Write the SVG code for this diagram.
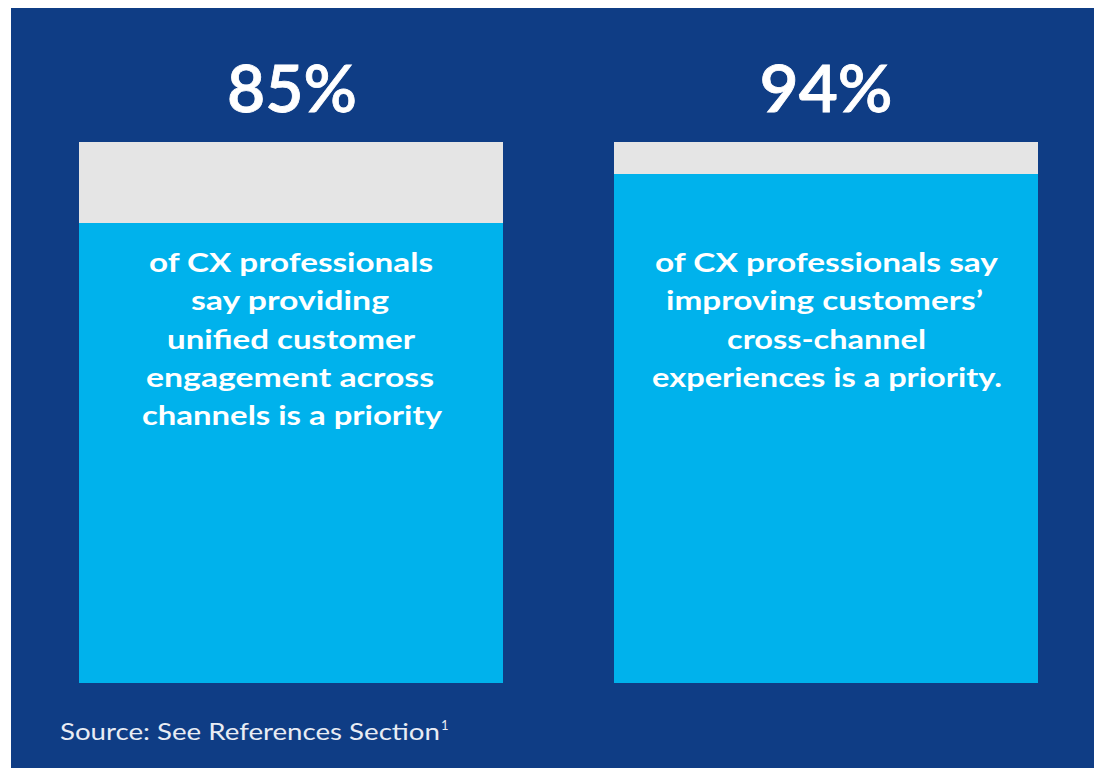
<svg xmlns="http://www.w3.org/2000/svg" width="1094" height="768" viewBox="0 0 1094 768">
<style>
.bg{fill:#0F3D85}
.gray{fill:#E5E5E5}
.blue{fill:#00B2EC}
.big{font-family:Lato,"Open Sans","Liberation Sans",sans-serif;font-weight:600;font-size:65px;fill:#FFFFFF;text-anchor:middle;stroke:#FFFFFF;stroke-width:0.8}
.body{font-family:Lato,"Open Sans","Liberation Sans",sans-serif;font-weight:700;font-size:26px;fill:#FFFFFF;text-anchor:middle}
.src{font-family:Lato,"Open Sans","Liberation Sans",sans-serif;font-weight:400;font-size:24px;fill:#E8ECF4}
</style>
<rect x="0" y="0" width="1094" height="768" fill="#FFFFFF"/>
<rect class="bg" x="11" y="8" width="1083" height="760"/>
<g id="stat-85">
<text class="big" x="292" y="112" textLength="130" lengthAdjust="spacingAndGlyphs">85%</text>
<rect class="gray" x="79" y="142" width="424" height="81"/>
<rect class="blue" x="79" y="223" width="424" height="460"/>
<text class="body" x="291" y="272" textLength="284" lengthAdjust="spacingAndGlyphs">of CX professionals</text>
<text class="body" x="290" y="310" textLength="198" lengthAdjust="spacingAndGlyphs">say providing</text>
<text class="body" x="291" y="349" textLength="248" lengthAdjust="spacingAndGlyphs">unified customer</text>
<text class="body" x="290" y="387" textLength="288" lengthAdjust="spacingAndGlyphs">engagement across</text>
<text class="body" x="292" y="425" textLength="300" lengthAdjust="spacingAndGlyphs">channels is a priority</text>
</g>
<g id="stat-94">
<text class="big" x="826" y="112" textLength="133" lengthAdjust="spacingAndGlyphs">94%</text>
<rect class="gray" x="614" y="142" width="424" height="32"/>
<rect class="blue" x="614" y="174" width="424" height="509"/>
<text class="body" x="826.5" y="272" textLength="343" lengthAdjust="spacingAndGlyphs">of CX professionals say</text>
<text class="body" x="824.5" y="310" textLength="317" lengthAdjust="spacingAndGlyphs">improving customers’</text>
<text class="body" x="826.5" y="349" textLength="199" lengthAdjust="spacingAndGlyphs">cross-channel</text>
<text class="body" x="827" y="387" textLength="350" lengthAdjust="spacingAndGlyphs">experiences is a priority.</text>
</g>
<g id="source">
<text class="src" x="60" y="740"><tspan textLength="380" lengthAdjust="spacingAndGlyphs">Source: See References Section</tspan><tspan font-size="13" dy="-10" dx="1">1</tspan></text>
</g>
</svg>
